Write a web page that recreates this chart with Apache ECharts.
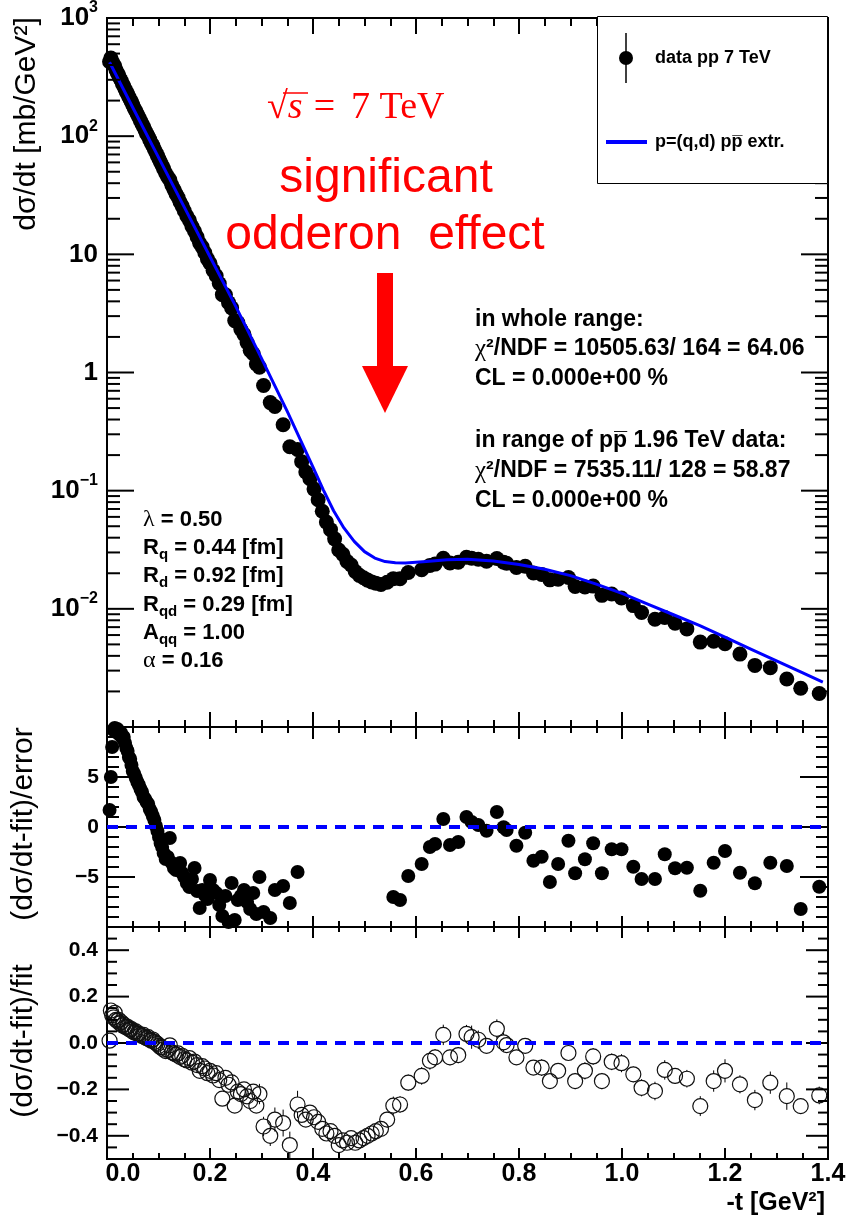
<!DOCTYPE html>
<html>
<head>
<meta charset="utf-8">
<script src="https://cdn.jsdelivr.net/npm/echarts@6.0.0/dist/echarts.min.js"></script>
<style>
html, body { margin: 0; padding: 0; background: #fff; }
#chart { width: 846px; height: 1218px; }
</style>
</head>
<body>
<div id="chart"></div>
<script>
// pp elastic scattering at sqrt(s) = 7 TeV: -t [GeV^2] of each measured point
const tVals = [
  0.005, 0.0075, 0.010, 0.0125, 0.015, 0.0175, 0.020, 0.0225, 0.025, 0.0275, 0.030, 0.0325, 0.035, 0.0375, 0.040, 0.0425, 0.045, 0.0475, 0.050,
  0.053, 0.056, 0.059, 0.062, 0.065, 0.068, 0.071, 0.074, 0.077, 0.080, 0.083, 0.086, 0.089, 0.092, 0.095, 0.098,
  0.101, 0.104, 0.107, 0.110,
  0.114, 0.118, 0.122, 0.126, 0.130, 0.134, 0.138, 0.142, 0.146, 0.150,
  0.155, 0.160, 0.165, 0.170, 0.175, 0.180, 0.185, 0.190, 0.195, 0.200,
  0.206, 0.212, 0.218, 0.224, 0.230, 0.236, 0.242, 0.248,
  0.254, 0.260, 0.266, 0.272, 0.278, 0.284, 0.290, 0.296,
  0.304, 0.317, 0.326, 0.342, 0.355, 0.370,
  0.378, 0.386, 0.394, 0.402, 0.410, 0.418, 0.426, 0.434, 0.442, 0.450, 0.458, 0.466, 0.474, 0.482, 0.490, 0.498, 0.506, 0.514, 0.522, 0.532, 0.544, 0.556,
  0.569, 0.585, 0.611, 0.627, 0.637, 0.653, 0.666, 0.682, 0.698, 0.708, 0.721, 0.737, 0.757, 0.770, 0.776, 0.795, 0.812, 0.828, 0.844, 0.860, 0.876, 0.896,
  0.909, 0.928, 0.944, 0.961, 0.980, 0.999, 1.022, 1.038, 1.064, 1.083, 1.103, 1.126, 1.152, 1.178, 1.200, 1.229, 1.258, 1.288, 1.320, 1.347, 1.383
];

// dsigma/dt [mb/GeV^2]
const dsdtVals = [
  426, 458, 428, 404, 392, 363, 344, 329, 309, 296, 278, 266, 251, 238, 227, 215, 204, 195, 184,
  172, 163, 153, 144, 135, 127, 120, 112, 105, 99.9, 93.4, 87.6, 83.1, 77.6, 72.8, 68.4,
  64.0, 60.0, 56.5, 52.9,
  48.6, 45.2, 42.7, 38.4, 35.3, 32.5, 30.3, 27.6, 25.6, 23.4,
  21.1, 19.4, 17.2, 15.7, 14.0, 12.4, 11.5, 10.3, 9.15, 8.41,
  7.31, 6.59, 5.66, 4.56, 4.54, 3.90, 3.52, 2.75,
  2.65, 2.31, 2.10, 1.79, 1.54, 1.44, 1.18, 1.11,
  0.777, 0.556, 0.515, 0.361, 0.235, 0.223,
  0.176, 0.1438, 0.1263, 0.1031, 0.0837, 0.0669, 0.0542, 0.0468, 0.0391, 0.0315, 0.0289, 0.0252, 0.0235, 0.0207, 0.0192, 0.0183, 0.0175, 0.0169, 0.0165, 0.0161, 0.0168, 0.0180,
  0.0180, 0.0203, 0.0214, 0.0233, 0.0239, 0.0268, 0.0244, 0.0248, 0.0273, 0.0268, 0.0263, 0.0253, 0.0267, 0.0248, 0.0243, 0.0224, 0.0229, 0.0201, 0.0195, 0.0176, 0.0178, 0.0184,
  0.01546, 0.01532, 0.01557, 0.0130, 0.01334, 0.01236, 0.01065, 0.0093, 0.00817, 0.00845, 0.00755, 0.00676, 0.00523, 0.00532, 0.00506, 0.00414, 0.00332, 0.00318, 0.00255, 0.00213, 0.00192
];

// (dsigma/dt - fit)/error ; null = below the plotted range
const pullVals = [
  1.7, 5.0, 8.0, 9.7, 9.9, 9.5, 9.8, 9.6, 9.2, 9.4, 8.9, 9.0, 8.4, 7.9, 7.6, 7.0, 6.8, 6.2, 5.6,
  5.3, 4.9, 4.5, 4.2, 3.8, 3.5, 3.0, 2.8, 2.5, 2.3, 1.8, 1.5, 1.1, 0.7, 0.1, -0.4,
  -1.0, -1.6, -2.0, -2.6,
  -3.2, -3.0, -1.1, -3.6, -4.1, -4.3, -3.8, -3.6, -4.6, -5.0,
  -5.6, -6.0, -5.2, -4.1, -6.4, -8.1, -6.3, -6.8, -7.2, -5.3,
  -6.3, -6.6, -7.8, -8.9, -6.9, -9.5, -5.6, -9.3,
  -7.3, -6.9, -6.3, -7.5, -8.2, -6.6, -8.7, -5.0,
  -8.5, -9.1, -6.3, -5.9, -7.6, -4.5,
  null, null, null, null, null, null, null, null, null, null, null, null, null, null, null, null, null, null, null, null, null, -7.0,
  -7.3, -4.9, -3.7, -2.0, -1.7, 0.8, -1.8, -1.5, 1.0, 0.5, 0.2, -0.37, 1.5, -0.03, -0.3, -1.87, -0.57, -3.37, -2.97, -5.5, -3.7, -1.37,
  -4.63, -3.23, -1.63, -4.63, -2.23, -2.23, -3.97, -5.2, -5.2, -2.73, -4.13, -4.07, -6.37, -3.57, -2.4, -4.57, -5.63, -3.57, -3.9, -8.2, -5.97
];

// (dsigma/dt - fit)/fit
const relVals = [
  0.01, 0.14, 0.12, 0.11, 0.13, 0.10, 0.095, 0.10, 0.085, 0.09, 0.075, 0.08, 0.07, 0.068, 0.07, 0.06, 0.058, 0.06, 0.05,
  0.045, 0.05, 0.04, 0.04, 0.035, 0.03, 0.035, 0.025, 0.02, 0.025, 0.015, 0.01, 0.015, 0.005, 0.0, -0.004,
  -0.012, -0.018, -0.02, -0.028,
  -0.035, -0.03, -0.01, -0.04, -0.045, -0.05, -0.045, -0.06, -0.055, -0.07,
  -0.075, -0.065, -0.085, -0.08, -0.095, -0.12, -0.10, -0.11, -0.13, -0.12,
  -0.14, -0.13, -0.16, -0.24, -0.15, -0.18, -0.17, -0.27,
  -0.21, -0.22, -0.20, -0.23, -0.25, -0.21, -0.27, -0.22,
  -0.36, -0.40, -0.33, -0.345, -0.44, -0.265,
  -0.31, -0.33, -0.30, -0.32, -0.34, -0.37, -0.39, -0.38, -0.40, -0.44, -0.42, -0.43, -0.41, -0.43, -0.42, -0.41, -0.40, -0.39, -0.38, -0.37, -0.33, -0.27,
  -0.265, -0.171, -0.142, -0.077, -0.062, 0.035, -0.062, -0.052, 0.039, 0.025, 0.014, -0.012, 0.061, 0.003, -0.009, -0.062, -0.012, -0.106, -0.106, -0.164, -0.120, -0.043,
  -0.164, -0.120, -0.058, -0.164, -0.081, -0.087, -0.135, -0.193, -0.207, -0.116, -0.142, -0.154, -0.272, -0.164, -0.120, -0.178, -0.246, -0.171, -0.229, -0.272, -0.226
];

// uncertainty of (dsigma/dt - fit)/fit
const relErrVals = [
  0.008, 0.028, 0.015, 0.012, 0.013, 0.011, 0.010, 0.010, 0.009, 0.010, 0.009, 0.009, 0.009, 0.009, 0.009, 0.009, 0.009, 0.010, 0.009,
  0.009, 0.010, 0.009, 0.010, 0.009, 0.009, 0.012, 0.009, 0.008, 0.011, 0.008, 0.007, 0.014, 0.007, 0.010, 0.010,
  0.012, 0.011, 0.010, 0.011,
  0.011, 0.010, 0.009, 0.011, 0.011, 0.012, 0.012, 0.017, 0.012, 0.014,
  0.013, 0.011, 0.016, 0.020, 0.015, 0.015, 0.016, 0.016, 0.018, 0.023,
  0.022, 0.020, 0.021, 0.027, 0.022, 0.019, 0.030, 0.029,
  0.029, 0.032, 0.032, 0.031, 0.030, 0.032, 0.031, 0.044,
  0.042, 0.044, 0.052, 0.058, 0.058, 0.059,
  0.024, 0.025, 0.024, 0.025, 0.026, 0.026, 0.027, 0.026, 0.027, 0.028, 0.027, 0.028, 0.028, 0.029, 0.029, 0.030, 0.030, 0.031, 0.031, 0.032, 0.034, 0.039,
  0.036, 0.035, 0.038, 0.038, 0.036, 0.044, 0.034, 0.035, 0.039, 0.050, 0.040, 0.032, 0.041, 0.040, 0.030, 0.033, 0.030, 0.031, 0.036, 0.030, 0.032, 0.031,
  0.035, 0.037, 0.036, 0.035, 0.036, 0.039, 0.034, 0.037, 0.040, 0.042, 0.034, 0.038, 0.043, 0.046, 0.050, 0.039, 0.044, 0.048, 0.059, 0.033, 0.038
];

// p = (q,d) model extrapolated from p-pbar
const fitT = [0.005, 0.05, 0.10, 0.15, 0.20, 0.25, 0.30, 0.35, 0.40, 0.42, 0.44, 0.46, 0.48, 0.50, 0.52, 0.54, 0.56, 0.58,
  0.62, 0.66, 0.70, 0.75, 0.80, 0.85, 0.90, 0.95, 1.00, 1.05, 1.10, 1.15, 1.20, 1.25, 1.30, 1.35, 1.39];
const fitVals = [422, 175, 66.1, 25.1, 9.55, 3.63, 1.318, 0.468, 0.1585, 0.1016, 0.0676, 0.0484, 0.0372, 0.0305, 0.0269, 0.0251, 0.0246, 0.0244,
  0.0251, 0.0260, 0.0263, 0.0254, 0.0237, 0.0216, 0.0191, 0.0162, 0.0135, 0.01096, 0.00891, 0.00724, 0.00575, 0.00457, 0.00363, 0.00288, 0.00240];

// tick labels
const yTopTickExp = [-3, -2, -1, 0, 1, 2, 3];
const yTopTickText = ['', '{b|10}{s|\u22122}', '{b|10}{s|\u22121}', '{b|1}', '{b|10}', '{b|10}{s|2}', '{b|10}{s|3}'];
const yMidMajor = [-5, 0, 5];
const yMidMinor = [-9, -8, -7, -6, -4, -3, -2, -1, 1, 2, 3, 4, 6, 7, 8, 9];
const yBotMajor = [-0.4, -0.2, 0, 0.2, 0.4];
const yBotMinor = [-0.45, -0.35, -0.3, -0.25, -0.15, -0.1, -0.05, 0.05, 0.1, 0.15, 0.25, 0.3, 0.35, 0.45];
const yTopMajor = [1e-3, 1e-2, 1e-1, 1, 10, 100, 1000];
const yTopMinor = [];
for (let e = -3; e < 3; e++) for (let k = 2; k <= 9; k++) yTopMinor.push(k * Math.pow(10, e));

const FONT = 'Liberation Sans';
const SERIF = 'Liberation Serif';
const BLUE = '#0000ff';
const RED = '#ff0000';

const chart = echarts.init(document.getElementById('chart'), null, { renderer: 'canvas', width: 846, height: 1218 });

const grids = [
  { left: 107, top: 18, width: 721, height: 709 },
  { left: 107, top: 727, width: 721, height: 200 },
  { left: 107, top: 927, width: 721, height: 232 }
].map(g => Object.assign(g, { show: true, borderColor: '#000', borderWidth: 2, backgroundColor: 'transparent', containLabel: false, outerBoundsMode: 'none' }));

function xAx(grid, pos, major, minor, withLabels) {
  return {
    type: 'value', gridIndex: grid, position: pos, min: 0, max: 1.4, interval: 0.2,
    axisLine: { show: false, onZero: false },
    axisTick: { show: true, inside: true, length: major, lineStyle: { color: '#000', width: 2 } },
    minorTick: { show: true, splitNumber: 4, length: minor, lineStyle: { color: '#000', width: 2 } },
    splitLine: { show: false }, minorSplitLine: { show: false },
    axisLabel: withLabels ? {
      show: true, margin: 3, color: '#000', fontFamily: FONT, fontWeight: 'bold', fontSize: 25,
      formatter: v => Math.abs(v) < 1e-9 ? '{z|0.0}' : v.toFixed(1),
      rich: { z: { fontFamily: FONT, fontWeight: 'bold', fontSize: 25, color: '#000', padding: [0, 0, 0, 32] } }
    } : { show: false }
  };
}

const xAxes = [
  xAx(0, 'bottom', 15, 7, false), xAx(0, 'top', 16, 8, false),
  xAx(1, 'bottom', 11, 6, false), xAx(1, 'top', 12, 6, false),
  xAx(2, 'bottom', 11, 6, true), xAx(2, 'top', 11, 5, false)
];

const yBase = {
  axisLine: { show: false, onZero: false }, axisTick: { show: false }, splitLine: { show: false }
};
const yAxes = [
  Object.assign({
    type: 'log', logBase: 10, gridIndex: 0, min: 0.001, max: 1000,
    axisLabel: {
      margin: 9,
      formatter: v => yTopTickText[yTopTickExp.indexOf(Math.round(Math.log10(v)))] || '',
      rich: {
        b: { fontFamily: FONT, fontWeight: 'bold', fontSize: 26, lineHeight: 36, color: '#000' },
        s: { fontFamily: FONT, fontWeight: 'bold', fontSize: 16, lineHeight: 16, verticalAlign: 'top', color: '#000' }
      }
    }
  }, yBase),
  Object.assign({
    type: 'value', gridIndex: 1, min: -10, max: 10, interval: 5,
    axisLabel: {
      margin: 8, color: '#000', fontFamily: FONT, fontWeight: 'bold', fontSize: 21,
      formatter: v => Math.abs(v) >= 10 ? '' : String(v).replace('-', '\u2212')
    }
  }, yBase),
  Object.assign({
    type: 'value', gridIndex: 2, min: -0.5, max: 0.5, interval: 0.1,
    axisLabel: {
      margin: 9, color: '#000', fontFamily: FONT, fontWeight: 'bold', fontSize: 21,
      formatter: v => {
        const k = Math.round(v * 10);
        if (k % 2 !== 0 || Math.abs(k) > 4) return '';
        return (k / 10).toFixed(1).replace('-', '\u2212');
      }
    }
  }, yBase)
];

// inward ticks on the left and right frame edges, placed through the y scale
function tickSeries(gridIdx, majors, majorLen, minors, minorLen) {
  const data = majors.map(v => [0, v, majorLen]).concat(minors.map(v => [0, v, minorLen]));
  return {
    type: 'custom', xAxisIndex: gridIdx * 2, yAxisIndex: gridIdx, silent: true, clip: false, z: 5,
    data: data, encode: { x: 0, y: 1 },
    renderItem(params, api) {
      const cs = params.coordSys;
      const y = api.coord([0, api.value(1)])[1];
      const len = api.value(2);
      const st = { stroke: '#000', lineWidth: 2 };
      return {
        type: 'group', children: [
          { type: 'line', shape: { x1: cs.x, y1: y, x2: cs.x + len, y2: y }, style: st },
          { type: 'line', shape: { x1: cs.x + cs.width - len, y1: y, x2: cs.x + cs.width, y2: y }, style: st }
        ]
      };
    }
  };
}

const topData = tVals.map((t, i) => [t, dsdtVals[i]]);
const midData = tVals.map((t, i) => [t, pullVals[i]]).filter(d => d[1] !== null);
const botData = tVals.map((t, i) => [t, relVals[i], relErrVals[i]]);
const fitData = fitT.map((t, i) => [t, fitVals[i]]);
const zeroLine = [[0, 0], [1.4, 0]];

const series = [
  tickSeries(0, yTopMajor, 27, yTopMinor, 13),
  tickSeries(1, yMidMajor, 28, yMidMinor, 12),
  tickSeries(2, yBotMajor, 22, yBotMinor, 10),
  {
    type: 'scatter', name: 'data pp 7 TeV', xAxisIndex: 0, yAxisIndex: 0, data: topData,
    symbol: 'circle', symbolSize: 15, itemStyle: { color: '#000', opacity: 1 }, z: 3, silent: true
  },
  {
    type: 'line', name: 'p=(q,d) pp extr.', xAxisIndex: 0, yAxisIndex: 0, data: fitData,
    showSymbol: false, smooth: false, lineStyle: { color: BLUE, width: 3, join: 'round' }, z: 4, silent: true
  },
  {
    type: 'scatter', xAxisIndex: 2, yAxisIndex: 1, data: midData,
    symbol: 'circle', symbolSize: 14, itemStyle: { color: '#000', opacity: 1 }, z: 3, silent: true
  },
  {
    type: 'line', xAxisIndex: 2, yAxisIndex: 1, data: zeroLine, showSymbol: false,
    lineStyle: { color: BLUE, width: 4, type: [11, 8] }, z: 6, silent: true
  },
  {
    type: 'custom', xAxisIndex: 4, yAxisIndex: 2, data: botData, encode: { x: 0, y: 1 }, z: 3, silent: true,
    renderItem(params, api) {
      const c = api.coord([api.value(0), api.value(1)]);
      const e = api.size([0, api.value(2)])[1];
      const r = 7.5;
      const kids = [{ type: 'circle', shape: { cx: c[0], cy: c[1], r: r }, style: { fill: 'none', stroke: '#111', lineWidth: 1.2 } }];
      if (e > r) {
        kids.push({ type: 'line', shape: { x1: c[0], y1: c[1] - r, x2: c[0], y2: c[1] - e }, style: { stroke: '#000', lineWidth: 1 } });
        kids.push({ type: 'line', shape: { x1: c[0], y1: c[1] + r, x2: c[0], y2: c[1] + e }, style: { stroke: '#000', lineWidth: 1 } });
      }
      return { type: 'group', children: kids };
    }
  },
  {
    type: 'line', xAxisIndex: 4, yAxisIndex: 2, data: zeroLine, showSymbol: false,
    lineStyle: { color: BLUE, width: 4, type: [11, 8] }, z: 6, silent: true
  }
];

function txt(x, y, text, opts, rotation) {
  return {
    type: 'text', x: x, y: y, rotation: rotation || 0, z: 100, silent: true,
    style: Object.assign({ text: text, fontFamily: FONT, fontSize: 22, fontWeight: 'bold', fill: '#000', align: 'left', verticalAlign: 'middle' }, opts || {})
  };
}
const richSet = (size) => ({
  t: { fontFamily: FONT, fontWeight: 'bold', fontSize: size, lineHeight: 28, fill: '#000' },
  g: { fontFamily: SERIF, fontWeight: 'normal', fontSize: size + 2, lineHeight: 28, fill: '#000' },
  sub: { fontFamily: FONT, fontWeight: 'bold', fontSize: 15, lineHeight: 14, verticalAlign: 'bottom', fill: '#000' }
});
const rt = (x, y, text, size) => txt(x, y, text, { rich: richSet(size) });
const titleStyle = { fontSize: 30, fontWeight: 'normal', align: 'center' };

const graphics = [
  // axis titles
  txt(27, 124, 'd\u03c3/dt [mb/GeV\u00b2]', titleStyle, Math.PI / 2),
  txt(24, 824, '(d\u03c3/dt-fit)/error', titleStyle, Math.PI / 2),
  txt(24, 1041, '(d\u03c3/dt-fit)/fit', titleStyle, Math.PI / 2),
  txt(825, 1203, '-t [GeV\u00b2]', { fontSize: 25, align: 'right' }),

  // fit statistics
  rt(475, 320, '{t|in whole range:}', 23),
  rt(475, 349, '{g|\u03c7}{t|\u00b2/NDF = 10505.63/ 164 = 64.06}', 23),
  rt(475, 379, '{t|CL = 0.000e+00 %}', 23),
  rt(475, 441, '{t|in range of pp\u0305 1.96 TeV data:}', 23),
  rt(475, 471, '{g|\u03c7}{t|\u00b2/NDF = 7535.11/ 128 = 58.87}', 23),
  rt(475, 501, '{t|CL = 0.000e+00 %}', 23),

  // model parameters
  rt(143, 520, '{g|\u03bb}{t| = 0.50}', 22),
  rt(143, 548, '{t|R}{sub|q}{t| = 0.44 [fm]}', 22),
  rt(143, 576, '{t|R}{sub|d}{t| = 0.92 [fm]}', 22),
  rt(143, 605, '{t|R}{sub|qd}{t| = 0.29 [fm]}', 22),
  rt(143, 633, '{t|A}{sub|qq}{t| = 1.00}', 22),
  rt(143, 661, '{g|\u03b1}{t| = 0.16}', 22),

  // red annotation
  txt(267, 108, '{r|\u221a}{i|s}{e|=}{r|7 TeV}', {
    rich: {
      r: { fontFamily: SERIF, fontSize: 38, fontWeight: 'normal', fill: RED },
      e: { fontFamily: SERIF, fontSize: 38, fontWeight: 'normal', fill: RED, padding: [0, 16, 0, 11] },
      i: { fontFamily: SERIF, fontSize: 38, fontStyle: 'italic', fontWeight: 'normal', fill: RED }
    }
  }),
  { type: 'line', z: 100, silent: true, shape: { x1: 283, y1: 93, x2: 308, y2: 93 }, style: { stroke: RED, lineWidth: 1.5 } },
  txt(386, 179, 'significant', { fontSize: 48, fontWeight: 'normal', fill: RED, align: 'center' }),
  txt(385, 236, 'odderon  effect', { fontSize: 48, fontWeight: 'normal', fill: RED, align: 'center' }),
  { type: 'rect', z: 100, silent: true, shape: { x: 377, y: 273, width: 16, height: 94 }, style: { fill: RED } },
  { type: 'polygon', z: 100, silent: true, shape: { points: [[362, 366], [408, 366], [385, 413]] }, style: { fill: RED } },

  // legend
  { type: 'rect', z: 100, silent: true, shape: { x: 597.5, y: 16.5, width: 230, height: 167 }, style: { fill: '#fff', stroke: '#000', lineWidth: 1 } },
  { type: 'line', z: 101, silent: true, shape: { x1: 626, y1: 33, x2: 626, y2: 83 }, style: { stroke: '#000', lineWidth: 1.5 } },
  { type: 'circle', z: 101, silent: true, shape: { cx: 626, cy: 58, r: 7 }, style: { fill: '#000' } },
  txt(655, 58, 'data pp 7 TeV', { fontSize: 18 }),
  { type: 'line', z: 101, silent: true, shape: { x1: 606, y1: 142, x2: 647, y2: 142 }, style: { stroke: BLUE, lineWidth: 4 } },
  txt(655, 142, 'p=(q,d) pp\u0305 extr.', { fontSize: 18 })
];

chart.setOption({
  animation: false,
  backgroundColor: '#fff',
  grid: grids,
  xAxis: xAxes,
  yAxis: yAxes,
  series: series,
  graphic: { elements: graphics }
});
</script>
</body>
</html>
